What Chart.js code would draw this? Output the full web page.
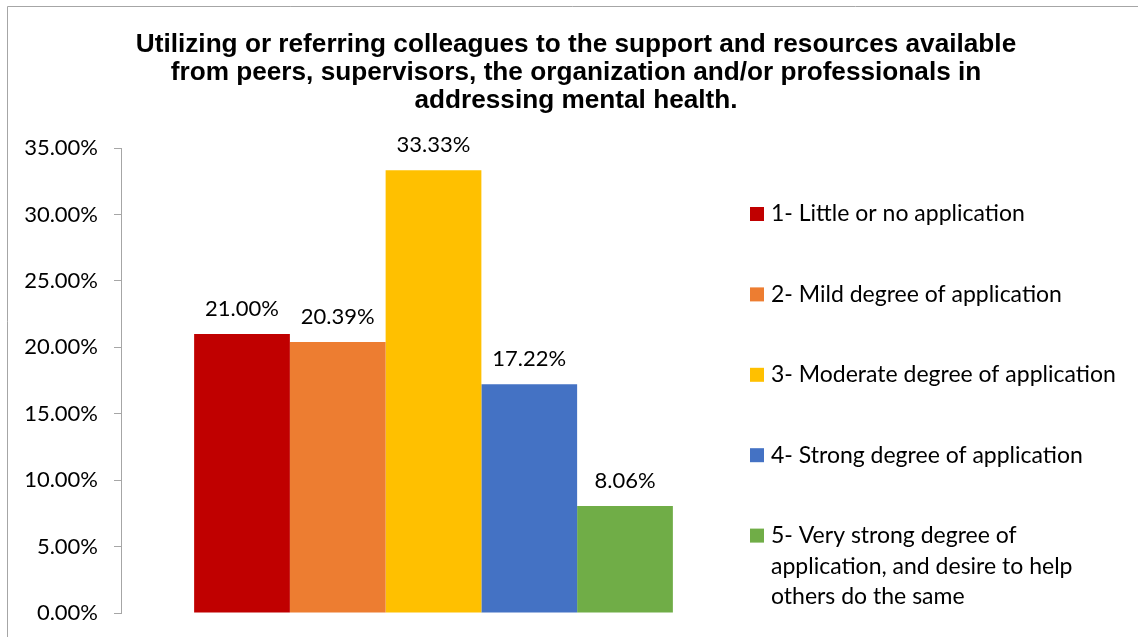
<!DOCTYPE html>
<html lang="en">
  <head>
    <meta charset="UTF-8" />
    <title>Utilizing or referring colleagues</title>
    <script src="https://cdn.jsdelivr.net/npm/chart.js@4"></script>
    <style>
      html, body { margin: 0; padding: 0; background: #fff; }
      #wrap { width: 1138px; height: 637px; }
    </style>
  </head>
  <body>
    <div id="wrap"><canvas id="myChart"></canvas></div>
    <script>
      // values
      const titleLines = [
        "Utilizing or referring colleagues to the support and resources available",
        "from peers, supervisors, the organization and/or professionals in",
        "addressing mental health."
      ];
      const seriesNames = [
        "1- Little or no application",
        "2- Mild degree of application",
        "3- Moderate degree of application",
        "4- Strong degree of application",
        "5- Very strong degree of\napplication, and desire to help\nothers do the same"
      ];
      const seriesValues = [21.0, 20.39, 33.33, 17.22, 8.06];
      const seriesColors = ["#C00000", "#ED7D31", "#FFC000", "#4472C4", "#70AD47"];
      const yTicks = [0, 5, 10, 15, 20, 25, 30, 35];

      const bodyFont = "Lato, 'Open Sans', sans-serif";
      const pct = v => v.toFixed(2) + "%";

      // grey frame of the chart box (right and bottom sides fall off the page)
      const frame = {
        id: "frame",
        beforeDraw(chart) {
          const c = chart.ctx;
          c.save();
          c.strokeStyle = "#a6a6a6";
          c.lineWidth = 1;
          c.beginPath();
          c.moveTo(7.5, chart.height);
          c.lineTo(7.5, 6.5);
          c.lineTo(chart.width, 6.5);
          c.stroke();
          c.restore();
        }
      };

      // title centred on the whole box, not on the plot area
      const boxTitle = {
        id: "boxTitle",
        afterDraw(chart) {
          const c = chart.ctx;
          c.save();
          c.font = "bold 26.2px 'Liberation Sans', Arial, sans-serif";
          c.fillStyle = "#000";
          c.textAlign = "center";
          c.textBaseline = "middle";
          titleLines.forEach((line, k) => {
            c.fillText(line, chart.width / 2 + 7, 45 + k * 28);
          });
          c.restore();
        }
      };

      const valueLabels = {
        id: "valueLabels",
        afterDatasetsDraw(chart) {
          const c = chart.ctx;
          c.save();
          c.font = "22px " + bodyFont;
          c.fillStyle = "#000";
          c.textAlign = "center";
          c.textBaseline = "middle";
          chart.data.datasets.forEach((ds, i) => {
            const bar = chart.getDatasetMeta(i).data[0];
            c.fillText(pct(ds.data[0]), bar.x, bar.y - 25);
          });
          c.restore();
        }
      };

      const sideLegend = {
        id: "sideLegend",
        afterDraw(chart) {
          const c = chart.ctx;
          const area = chart.chartArea;
          const x = area.right + 4;
          const y0 = 214;
          c.save();
          c.font = "23px " + bodyFont;
          c.textBaseline = "middle";
          c.textAlign = "left";
          chart.data.datasets.forEach((ds, i) => {
            const y = y0 + i * 80.4;
            c.fillStyle = ds.backgroundColor;
            c.fillRect(x, y - 7, 14, 14);
            c.fillStyle = "#000";
            ds.label.split("\n").forEach((line, k) => {
              c.fillText(line, x + 21, y + k * 30.5);
            });
          });
          c.restore();
        }
      };

      const ctx = document.getElementById("myChart").getContext("2d");
      const myChart = new Chart(ctx, {
        type: "bar",
        data: {
          labels: [""],
          datasets: seriesNames.map((name, i) => ({
            label: name,
            data: [seriesValues[i]],
            backgroundColor: seriesColors[i],
            borderWidth: 0
          }))
        },
        options: {
          responsive: true,
          maintainAspectRatio: false,
          animation: false,
          datasets: {
            bar: { barPercentage: 1, categoryPercentage: 0.766 }
          },
          layout: { padding: { left: 0, top: 148, right: 392, bottom: 24 } },
          plugins: {
            legend: { display: false },
            tooltip: { enabled: false },
            title: { display: false }
          },
          scales: {
            x: { display: false },
            y: {
              min: 0,
              max: 35,
              afterBuildTicks: scale => {
                scale.ticks = yTicks.map(v => ({ value: v }));
              },
              afterFit: scale => {
                scale.width = 121;
                // plot area edges come from layout padding only
                scale.paddingTop = 0;
                scale.paddingBottom = 0;
              },
              ticks: {
                callback: v => pct(v),
                color: "#000",
                padding: 16,
                font: { family: bodyFont, size: 22 }
              },
              grid: {
                drawOnChartArea: false,
                drawTicks: true,
                tickLength: 7,
                color: "#a6a6a6"
              },
              border: { display: true, color: "#a6a6a6" }
            }
          }
        },
        plugins: [frame, boxTitle, valueLabels, sideLegend]
      });
    </script>
  </body>
</html>
